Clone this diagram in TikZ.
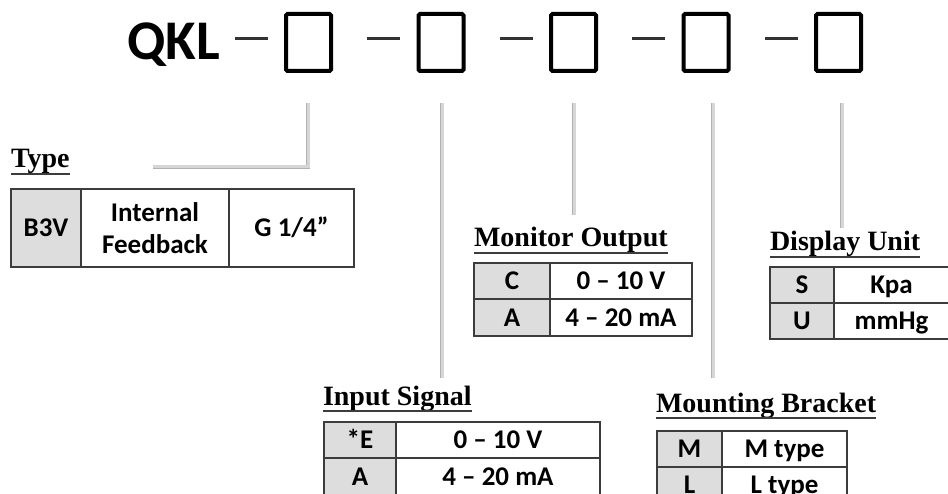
\documentclass[tikz,border=0pt]{standalone}
\usepackage{fontspec}
\setmainfont{Liberation Serif}
\newfontfamily\calib{Carlito}
\usepackage{tikz}
\definecolor{keygray}{RGB}{221,221,221}
\definecolor{rulegray}{RGB}{60,60,60}
\definecolor{leadfill}{RGB}{214,214,214}
\definecolor{leadedge}{RGB}{178,178,178}
\tikzset{
  cellbase/.style={draw=rulegray, line width=2pt, inner sep=0pt, outer sep=0pt,
    anchor=north west, align=center, font=\calib\bfseries\fontsize{27}{32}\selectfont},
  cell/.style={cellbase, text height=20pt, text depth=2.6pt},
  keycell/.style={cell, fill=keygray},
  heading/.style={anchor=base west, inner sep=0pt, outer sep=0pt,
    font=\bfseries\fontsize{28}{32}\selectfont},
  uline/.style={draw=rulegray, line width=1.8pt},
  lead/.style={draw=leadedge, double=leadfill, double distance=3pt, line width=0.9pt},
  slot/.style={draw, line width=4pt, rounded corners=1.5pt, inner sep=0pt,
    minimum width=45pt, minimum height=57pt},
  sep/.style={draw=black!80, line width=3pt}
}

\begin{document}
\begin{tikzpicture}[x=1pt, y=-1pt]
    \useasboundingbox (0,0) rectangle (948,494);

    % Model code
    \node[anchor=base west, inner sep=0pt, font=\calib\bfseries\fontsize{56}{60}\selectfont] (qkl) at (127,60) {QKL};
    \node[slot] (s1) at (308.5,42.5) {};
    \node[slot] (s2) at (441,42.5) {};
    \node[slot] (s3) at (573.5,42.5) {};
    \node[slot] (s4) at (706,42.5) {};
    \node[slot] (s5) at (838.5,42.5) {};
    \coordinate (d1a) at (235,39); \coordinate (d1b) at (268,39);
    \coordinate (d2a) at (367,39); \coordinate (d2b) at (400,39);
    \coordinate (d3a) at (500,39); \coordinate (d3b) at (533,39);
    \coordinate (d4a) at (632,39); \coordinate (d4b) at (665,39);
    \coordinate (d5a) at (765,39); \coordinate (d5b) at (798,39);
    \draw[sep] (d1a) -- (d1b);
    \draw[sep] (d2a) -- (d2b);
    \draw[sep] (d3a) -- (d3b);
    \draw[sep] (d4a) -- (d4b);
    \draw[sep] (d5a) -- (d5b);

    % Leads
    \coordinate (l1) at (308,103);  \coordinate (e1) at (153,167);
    \coordinate (l2) at (442,103);  \coordinate (e2) at (442,378);
    \coordinate (l3) at (574,103);  \coordinate (e3) at (574,215);
    \coordinate (l4) at (713,103);  \coordinate (e4) at (713,378);
    \coordinate (l5) at (842,103);  \coordinate (e5) at (842,228);
    \draw[lead] (l1) |- (e1);
    \draw[lead] (l2) -- (e2);
    \draw[lead] (l3) -- (e3);
    \draw[lead] (l4) -- (e4);
    \draw[lead] (l5) -- (e5);

    % Type
    \node[heading] (hType) at (11,168) {Type};
    \draw[uline] ([yshift=-6pt]hType.base west) -- ([yshift=-6pt]hType.base east);
    \node[keycell, minimum width=70pt, minimum height=78pt] (ty1) at (11,189) {B3V};
    \node[cellbase, minimum width=148pt, minimum height=78pt] (ty2) at (81,189) {Internal\\Feedback};
    \node[cell, minimum width=125pt, minimum height=78pt] (ty3) at (229,189) {G 1/4”};

    % Monitor output
    \node[heading] (hMon) at (474,247) {Monitor Output};
    \draw[uline] ([yshift=-6pt]hMon.base west) -- ([yshift=-6pt]hMon.base east);
    \node[keycell, minimum width=76pt, minimum height=36pt] (mo1) at (474,263) {C};
    \node[cell, minimum width=142pt, minimum height=36pt] (mo2) at (550,263) {0 – 10 V};
    \node[keycell, minimum width=76pt, minimum height=37pt] (mo3) at (474,299) {A};
    \node[cell, minimum width=142pt, minimum height=37pt] (mo4) at (550,299) {4 – 20 mA};

    % Display unit
    \node[heading] (hDisp) at (770,251) {Display Unit};
    \draw[uline] ([yshift=-6pt]hDisp.base west) -- ([yshift=-6pt]hDisp.base east);
    \node[keycell, minimum width=64pt, minimum height=36pt] (du1) at (770,267) {S};
    \node[cell, minimum width=115pt, minimum height=36pt] (du2) at (834,267) {Kpa};
    \node[keycell, minimum width=64pt, minimum height=36pt] (du3) at (770,303) {U};
    \node[cell, minimum width=115pt, minimum height=36pt] (du4) at (834,303) {mmHg};

    % Input signal
    \node[heading] (hIn) at (323,405) {Input Signal};
    \draw[uline] ([yshift=-6pt]hIn.base west) -- ([yshift=-6pt]hIn.base east);
    \node[keycell, minimum width=72pt, minimum height=36pt] (is1) at (324,422) {*E};
    \node[cell, minimum width=204pt, minimum height=36pt] (is2) at (396,422) {0 – 10 V};
    \node[keycell, minimum width=72pt, minimum height=37pt] (is3) at (324,458) {A};
    \node[cell, minimum width=204pt, minimum height=37pt] (is4) at (396,458) {4 – 20 mA};

    % Mounting bracket
    \node[heading] (hMnt) at (656,412) {Mounting Bracket};
    \draw[uline] ([yshift=-6pt]hMnt.base west) -- ([yshift=-6pt]hMnt.base east);
    \node[keycell, minimum width=65pt, minimum height=36pt] (mb1) at (657,431) {M};
    \node[cell, minimum width=125pt, minimum height=36pt] (mb2) at (722,431) {M type};
    \node[keycell, minimum width=65pt, minimum height=36pt] (mb3) at (657,467) {L};
    \node[cell, minimum width=125pt, minimum height=36pt] (mb4) at (722,467) {L type};
\end{tikzpicture}
\end{document}
